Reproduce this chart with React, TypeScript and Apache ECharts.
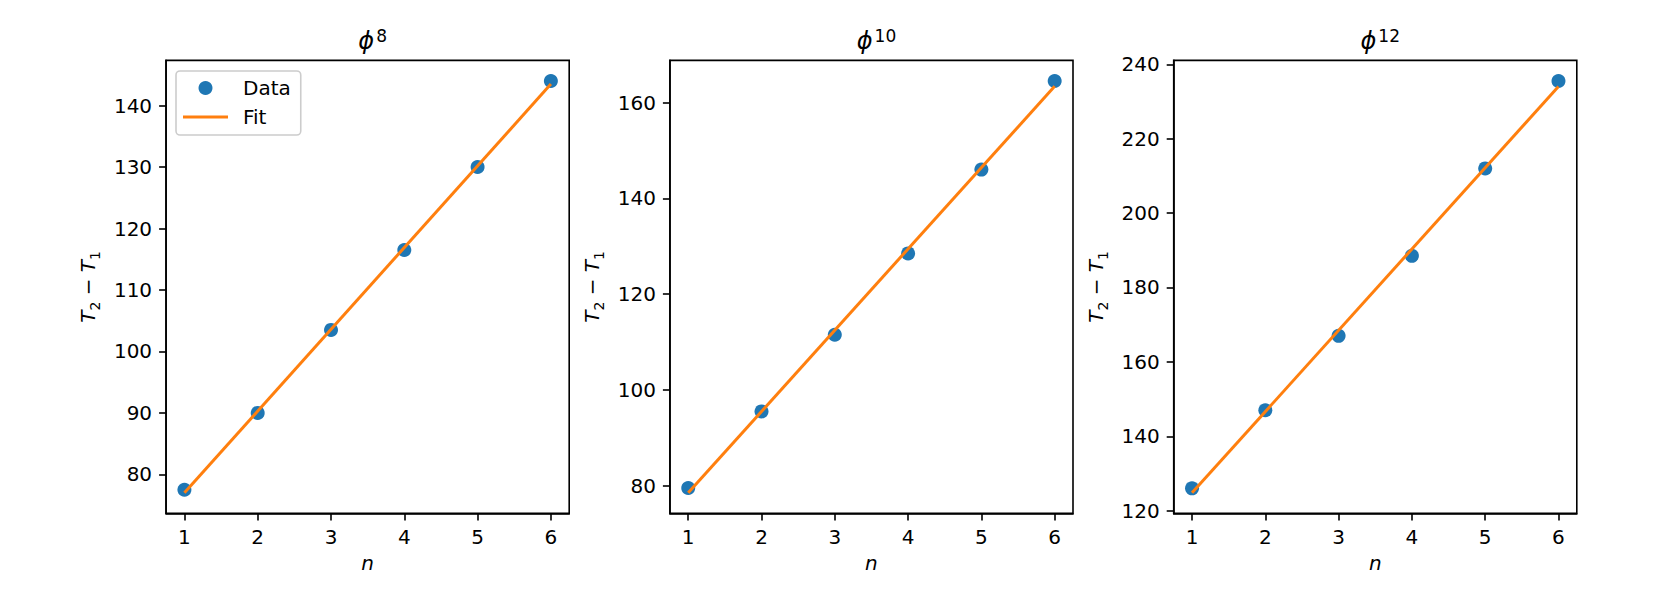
import React, { useEffect, useRef } from "react";
import * as echarts from "echarts";

const nValues = [1, 2, 3, 4, 5, 6];
const xTicks = [1, 2, 3, 4, 5, 6];
const fitX = [1, 6];

const titleExps = ["8", "10", "12"];

const data8 = [77.5, 90, 103.5, 116.5, 130, 144];
const data10 = [79.5, 95.5, 111.5, 128.5, 146, 164.5];
const data12 = [126, 147, 167, 188.5, 212, 235.5];

const fit8 = [77.0, 143.5];
const fit10 = [78.5, 163.4];
const fit12 = [124.8, 234.0];

const yTicks8 = [80, 90, 100, 110, 120, 130, 140];
const yTicks10 = [80, 100, 120, 140, 160];
const yTicks12 = [120, 140, 160, 180, 200, 220, 240];

const FONT = "DejaVu Sans";
const BLUE = "#1f77b4";
const ORANGE = "#ff7f0e";

const panels = [
  { exp: titleExps[0], data: data8, fit: fit8, ticks: yTicks8 },
  { exp: titleExps[1], data: data10, fit: fit10, ticks: yTicks10 },
  { exp: titleExps[2], data: data12, fit: fit12, ticks: yTicks12 },
];

// layout (pixels)
const W = 1661;
const H = 604;
const gridLefts = [166.1, 669.9, 1173.7];
const gridW = 403.1;
const gridTop = 60.4;
const gridH = 453;

export default function App() {
  const ref = useRef<HTMLDivElement>(null);
  useEffect(() => {
    if (!ref.current) return;
    const chart = echarts.init(ref.current, undefined, { renderer: "svg" });

    const grids: any[] = [];
    const xAxes: any[] = [];
    const yAxes: any[] = [];
    const series: any[] = [];
    const titles: any[] = [];

    panels.forEach((p, i) => {
      const all = [...p.data, ...p.fit];
      const lo = Math.min(...all);
      const hi = Math.max(...all);
      const pad = (hi - lo) * 0.05;
      grids.push({
        left: gridLefts[i],
        top: gridTop,
        width: gridW,
        height: gridH,
        show: true,
        borderColor: "#000",
        borderWidth: 1.6,
        backgroundColor: "transparent",
      });
      xAxes.push({
        type: "value",
        gridIndex: i,
        min: 0.75,
        max: 6.25,
        name: "n",
        nameLocation: "middle",
        nameGap: 40,
        nameTextStyle: { fontFamily: FONT, fontSize: 20, fontStyle: "italic", color: "#000" },
        axisLine: { show: true, onZero: false, lineStyle: { color: "#000", width: 1.6 } },
        axisTick: { show: true, length: 7, lineStyle: { color: "#000", width: 1.6 }, customValues: xTicks },
        axisLabel: { show: true, margin: 14, fontFamily: FONT, fontSize: 20, color: "#000", customValues: xTicks },
        splitLine: { show: false },
      });
      yAxes.push({
        type: "value",
        gridIndex: i,
        min: lo - pad,
        max: hi + pad,
        name: "{t|T}{s|2}{m| − }{t|T}{s|1}",
        nameLocation: "middle",
        nameRotate: 90,
        nameGap: 64,
        nameTextStyle: {
          fontFamily: FONT,
          fontSize: 20,
          color: "#000",
          rich: {
            t: { fontFamily: FONT, fontSize: 20, fontStyle: "italic", color: "#000", verticalAlign: "bottom", padding: [0, 0, 4, 0] },
            s: { fontFamily: FONT, fontSize: 14, color: "#000", verticalAlign: "bottom" },
            m: { fontFamily: FONT, fontSize: 20, color: "#000", verticalAlign: "bottom", padding: [0, 0, 4, 0] },
          },
        },
        axisLine: { show: true, onZero: false, lineStyle: { color: "#000", width: 1.6 } },
        axisTick: { show: true, length: 7, lineStyle: { color: "#000", width: 1.6 }, customValues: p.ticks },
        axisLabel: { show: true, margin: 14, fontFamily: FONT, fontSize: 20, color: "#000", customValues: p.ticks },
        splitLine: { show: false },
      });
      series.push({
        type: "scatter",
        name: "Data",
        xAxisIndex: i,
        yAxisIndex: i,
        symbol: "circle",
        symbolSize: 14,
        itemStyle: { color: BLUE, opacity: 1 },
        z: 2,
        data: nValues.map((n, k) => [n, p.data[k]]),
      });
      series.push({
        type: "line",
        name: "Fit",
        xAxisIndex: i,
        yAxisIndex: i,
        symbol: "none",
        showSymbol: false,
        lineStyle: { color: ORANGE, width: 3 },
        itemStyle: { color: ORANGE },
        z: 3,
        data: fitX.map((n, k) => [n, p.fit[k]]),
      });
      titles.push({
        text: "{p|ϕ}{e|" + p.exp + "}",
        left: gridLefts[i] + gridW / 2,
        textAlign: "center",
        top: 22,
        textStyle: {
          fontFamily: FONT,
          fontSize: 24,
          color: "#000",
          fontWeight: "normal",
          rich: {
            p: { fontFamily: FONT, fontSize: 24, fontStyle: "italic", color: "#000", verticalAlign: "bottom" },
            e: { fontFamily: FONT, fontSize: 17, color: "#000", verticalAlign: "bottom", padding: [0, 0, 9, 2] },
          },
        },
      });
    });

    chart.setOption({
      animation: false,
      backgroundColor: "#fff",
      title: titles,
      grid: grids,
      xAxis: xAxes,
      yAxis: yAxes,
      legend: {
        show: true,
        data: [
          { name: "Data", icon: "circle" },
          { name: "Fit", icon: "path://M0,0 L45,0 L45,3 L0,3 Z" },
        ],
        orient: "vertical",
        left: 176,
        top: 71,
        itemWidth: 45,
        itemHeight: 14,
        itemGap: 9,
        selectedMode: false,
        backgroundColor: "rgba(255,255,255,0.8)",
        borderColor: "#cccccc",
        borderWidth: 1.6,
        borderRadius: 4,
        padding: [7, 10, 8, 7],
        textStyle: { fontFamily: FONT, fontSize: 20, color: "#000", padding: [0, 0, 0, 10] },
      },
      series,
    });
    return () => chart.dispose();
  }, []);
  return (
    <div
      ref={ref}
      style={{ position: "absolute", left: 0, top: 0, width: W, height: H }}
    />
  );
}
